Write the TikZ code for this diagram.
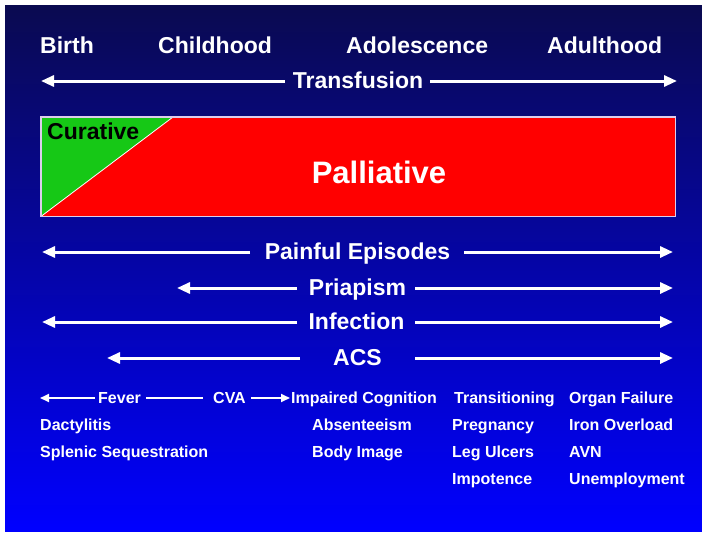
\documentclass[tikz,border=0pt]{standalone}
\usepackage{fontspec}
\setmainfont{Liberation Sans}
\usetikzlibrary{arrows.meta}
\definecolor{bgtop}{RGB}{10,10,80}
\definecolor{bgmid}{RGB}{25,25,205}
\definecolor{bgbot}{RGB}{0,0,255}
\definecolor{curgreen}{RGB}{22,200,22}
\definecolor{boxedge}{RGB}{220,205,235}
\begin{document}
\begin{tikzpicture}[x=1pt,y=-1pt,
  lbl/.style={text=white,font=\bfseries\fontsize{23}{27}\selectfont,inner sep=0pt},
  small/.style={text=white,font=\bfseries\fontsize{16}{19}\selectfont,inner sep=0pt,anchor=base west},
  arr/.style={draw=white,line width=3pt,-{Triangle[length=13pt,width=11pt]}},
  sarr/.style={draw=white,line width=2pt,-{Triangle[length=9pt,width=8pt]}},
  sline/.style={draw=white,line width=2pt}]
\useasboundingbox (0,0) rectangle (702,533);
\fill[white] (0,0) rectangle (702,533);
\shade[top color=bgtop, middle color=bgmid, bottom color=bgbot] (5,5) rectangle (702,531);

% headers
\node[lbl,anchor=base west] (birth) at (40,53) {Birth};
\node[lbl,anchor=base west] (child) at (158,53) {Childhood};
\node[lbl,anchor=base west] (adol) at (346,53) {Adolescence};
\node[lbl,anchor=base west] (adult) at (547,53) {Adulthood};

% transfusion
\node[lbl,anchor=base] (transf) at (358,88) {Transfusion};
\coordinate (trLa) at (285,81); \coordinate (trLb) at (41,81);
\coordinate (trRa) at (430,81); \coordinate (trRb) at (677,81);
\draw[arr] (trLa) -- (trLb);
\draw[arr] (trRa) -- (trRb);

% box
\node[fill=red,minimum width=634pt,minimum height=99pt,inner sep=0pt,anchor=north west] (box) at (41,117) {};
\coordinate (gtip) at (173,117);
\fill[curgreen] (box.north west) -- (gtip) -- (box.south west) -- cycle;
\draw[white,line width=0.8pt] (gtip) -- (box.south west);
\draw[boxedge,line width=1.2pt] (box.north west) rectangle (box.south east);
\node[inner sep=0pt,anchor=base west,font=\bfseries\fontsize{23}{27}\selectfont] (cur) at (47,139) {Curative};
\node[inner sep=0pt,anchor=base,text=white,font=\bfseries\fontsize{31}{36}\selectfont] (pal) at (379,183) {Palliative};

% painful episodes
\node[lbl,anchor=base] (pain) at (357.5,259) {Painful Episodes};
\coordinate (peLa) at (250,252); \coordinate (peLb) at (42,252);
\coordinate (peRa) at (464,252); \coordinate (peRb) at (673,252);
\draw[arr] (peLa) -- (peLb);
\draw[arr] (peRa) -- (peRb);

% priapism
\node[lbl,anchor=base] (pri) at (357.5,295) {Priapism};
\coordinate (prLa) at (297,288); \coordinate (prLb) at (177,288);
\coordinate (prRa) at (415,288); \coordinate (prRb) at (673,288);
\draw[arr] (prLa) -- (prLb);
\draw[arr] (prRa) -- (prRb);

% infection
\node[lbl,anchor=base] (inf) at (356.5,329) {Infection};
\coordinate (inLa) at (297,322); \coordinate (inLb) at (42,322);
\coordinate (inRa) at (415,322); \coordinate (inRb) at (673,322);
\draw[arr] (inLa) -- (inLb);
\draw[arr] (inRa) -- (inRb);

% ACS
\node[lbl,anchor=base] (acs) at (357.5,365) {ACS};
\coordinate (acLa) at (300,358); \coordinate (acLb) at (107,358);
\coordinate (acRa) at (415,358); \coordinate (acRb) at (673,358);
\draw[arr] (acLa) -- (acLb);
\draw[arr] (acRa) -- (acRb);

% bottom rows
\node[small] (fever) at (98,403) {Fever};
\node[small] (cva) at (213,403) {CVA};
\node[small] (impc) at (291,403) {Impaired Cognition};
\coordinate (fvL) at (40,398);
\draw[sarr] ([xshift=-3pt,yshift=5pt]fever.base west) -- (fvL);
\draw[sline] ([xshift=5pt,yshift=5pt]fever.base east) -- ([xshift=-10pt,yshift=5pt]cva.base west);
\draw[sarr] ([xshift=5pt,yshift=5pt]cva.base east) -- ([xshift=-1pt,yshift=5pt]impc.base west);

\node[small] (dact) at (40,430) {Dactylitis};
\node[small] (splen) at (40,457) {Splenic Sequestration};
\node[small] (absent) at (312,430) {Absenteeism};
\node[small] (body) at (312,457) {Body Image};

\node[small] (trans) at (454,403) {Transitioning};
\node[small] (preg) at (452,430) {Pregnancy};
\node[small] (leg) at (452,457) {Leg Ulcers};
\node[small] (impo) at (452,484) {Impotence};

\node[small] (organ) at (569,403) {Organ Failure};
\node[small] (iron) at (569,430) {Iron Overload};
\node[small] (avn) at (569,457) {AVN};
\node[small] (unemp) at (569,484) {Unemployment};
\end{tikzpicture}
\end{document}
